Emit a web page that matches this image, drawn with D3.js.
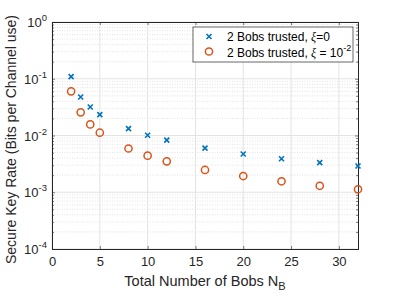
<!DOCTYPE html>
<html>
<head>
<meta charset="utf-8">
<script src="https://cdn.jsdelivr.net/npm/d3@7"></script>
<style>
  body { margin: 0; background: #fff; }
  text { font-family: "Liberation Sans", Arial, sans-serif; }
</style>
</head>
<body>
<svg id="chart" width="395" height="296"></svg>
<script>
// data
var bobs = [2, 3, 4, 5, 8, 10, 12, 16, 20, 24, 28, 32];
var rateXi0 = [0.109, 0.0477, 0.0318, 0.0233, 0.0132, 0.0101, 0.0083, 0.0060, 0.00472, 0.0039, 0.00332, 0.0029];
var rateXi2 = [0.060, 0.0256, 0.0157, 0.0112, 0.0059, 0.00441, 0.0035, 0.00247, 0.00193, 0.00156, 0.0013, 0.00113];
var xTicks = [0, 5, 10, 15, 20, 25, 30];
var yExps = [-4, -3, -2, -1, 0];

var margin = {left: 52, top: 22, right: 37, bottom: 47};
var width = 395 - margin.left - margin.right;
var height = 296 - margin.top - margin.bottom;

var svg = d3.select('#chart');
var g = svg.append('g').attr('transform', 'translate(' + margin.left + ',' + margin.top + ')');

var x = d3.scaleLinear().domain([0, 32]).range([0, width]);
var y = d3.scaleLog().domain([1e-4, 1]).range([height, 0]);

// minor values on log axis
var minors = [];
yExps.slice(0, -1).forEach(function (e) {
    for (var k = 2; k <= 9; k++) minors.push(k * Math.pow(10, e));
});
var majorsY = yExps.map(function (e) { return Math.pow(10, e); });

// grid
g.selectAll('.minorgrid').data(minors).enter().append('line')
    .attr('x1', 0).attr('x2', width)
    .attr('y1', function (d) { return y(d); }).attr('y2', function (d) { return y(d); })
    .attr('stroke', '#d0d0d0').attr('stroke-width', 0.6).attr('stroke-dasharray', '1,1.5');
g.selectAll('.ygrid').data(majorsY).enter().append('line')
    .attr('x1', 0).attr('x2', width)
    .attr('y1', function (d) { return y(d); }).attr('y2', function (d) { return y(d); })
    .attr('stroke', '#e3e3e3').attr('stroke-width', 1);
g.selectAll('.xgrid').data(xTicks).enter().append('line')
    .attr('y1', 0).attr('y2', height)
    .attr('x1', function (d) { return x(d); }).attr('x2', function (d) { return x(d); })
    .attr('stroke', '#e3e3e3').attr('stroke-width', 1);

// axes
var axisColor = '#262626';
var xAxis = g.append('g').attr('transform', 'translate(0,' + height + ')')
    .call(d3.axisBottom(x).tickValues(xTicks).tickSize(-3).tickPadding(8));
var xTop = g.append('g')
    .call(d3.axisTop(x).tickValues(xTicks).tickSize(-3).tickFormat(''));
var yAxis = g.append('g')
    .call(d3.axisLeft(y).tickValues(majorsY).tickSize(-3).tickPadding(6).tickFormat(''));
var yRight = g.append('g').attr('transform', 'translate(' + width + ',0)')
    .call(d3.axisRight(y).tickValues(majorsY).tickSize(-3).tickFormat(''));
var yMinL = g.append('g')
    .call(d3.axisLeft(y).tickValues(minors).tickSize(-2).tickFormat(''));
var yMinR = g.append('g').attr('transform', 'translate(' + width + ',0)')
    .call(d3.axisRight(y).tickValues(minors).tickSize(-2).tickFormat(''));

[xAxis, xTop, yAxis, yRight, yMinL, yMinR].forEach(function (a) {
    a.select('.domain').attr('stroke', axisColor);
    a.selectAll('.tick line').attr('stroke', axisColor).attr('stroke-width', 0.6);
    a.selectAll('text').attr('fill', axisColor).style('font-size', '13px')
        .style('font-family', '"Liberation Sans", Arial, sans-serif');
});

// y tick labels 10^e
yExps.forEach(function (e) {
    var t = g.append('text').attr('x', -5).attr('y', y(Math.pow(10, e)) + 5)
        .attr('text-anchor', 'end').attr('fill', axisColor).style('font-size', '13px');
    t.append('tspan').text('10');
    t.append('tspan').attr('dy', -6).style('font-size', '9.5px').text(e === 0 ? '0' : '-' + (-e));
});

// markers
var blue = '#0072BD', orange = '#D95319';
g.selectAll('.m1').data(bobs).enter().append('path')
    .attr('d', 'M-2.5,-2.5L2.5,2.5M-2.5,2.5L2.5,-2.5')
    .attr('transform', function (d, i) { return 'translate(' + x(d) + ',' + y(rateXi0[i]) + ')'; })
    .attr('stroke', blue).attr('stroke-width', 1.6).attr('fill', 'none');
g.selectAll('.m2').data(bobs).enter().append('circle')
    .attr('cx', function (d) { return x(d); })
    .attr('cy', function (d, i) { return y(rateXi2[i]); })
    .attr('r', 3.6).attr('fill', 'none').attr('stroke', orange).attr('stroke-width', 1.5);

// legend
var lg = svg.append('g').attr('transform', 'translate(193,27)');
lg.append('rect').attr('width', 160).attr('height', 35).attr('fill', '#fff')
    .attr('stroke', axisColor).attr('stroke-width', 0.7);
lg.append('path').attr('d', 'M-2.5,-2.5L2.5,2.5M-2.5,2.5L2.5,-2.5')
    .attr('transform', 'translate(16,9.5)').attr('stroke', blue).attr('stroke-width', 1.6);
lg.append('circle').attr('cx', 16).attr('cy', 24.5).attr('r', 3.6)
    .attr('fill', 'none').attr('stroke', orange).attr('stroke-width', 1.5);
var l1 = lg.append('text').attr('x', 34).attr('y', 14).attr('fill', '#000').style('font-size', '12px');
l1.append('tspan').text('2 Bobs trusted, ');
l1.append('tspan').style('font-style', 'italic').style('font-family', '"Liberation Serif", serif').text('ξ');
l1.append('tspan').text('=0');
var l2 = lg.append('text').attr('x', 34).attr('y', 30).attr('fill', '#000').style('font-size', '12px');
l2.append('tspan').text('2 Bobs trusted, ');
l2.append('tspan').style('font-style', 'italic').style('font-family', '"Liberation Serif", serif').text('ξ');
l2.append('tspan').text(' = 10');
l2.append('tspan').attr('dy', -6).style('font-size', '9px').text('-2');

// axis labels
var xl = svg.append('text').attr('x', margin.left + width / 2).attr('y', 286)
    .attr('text-anchor', 'middle').attr('fill', axisColor).style('font-size', '14.5px');
xl.append('tspan').text('Total Number of Bobs N');
xl.append('tspan').attr('dy', 4).style('font-size', '11px').text('B');

svg.append('text').attr('transform', 'translate(16,' + (margin.top + height / 2 + 4) + ') rotate(-90)')
    .attr('text-anchor', 'middle').attr('fill', axisColor).style('font-size', '14px')
    .text('Secure Key Rate (Bits per Channel use)');
</script>
</body>
</html>
